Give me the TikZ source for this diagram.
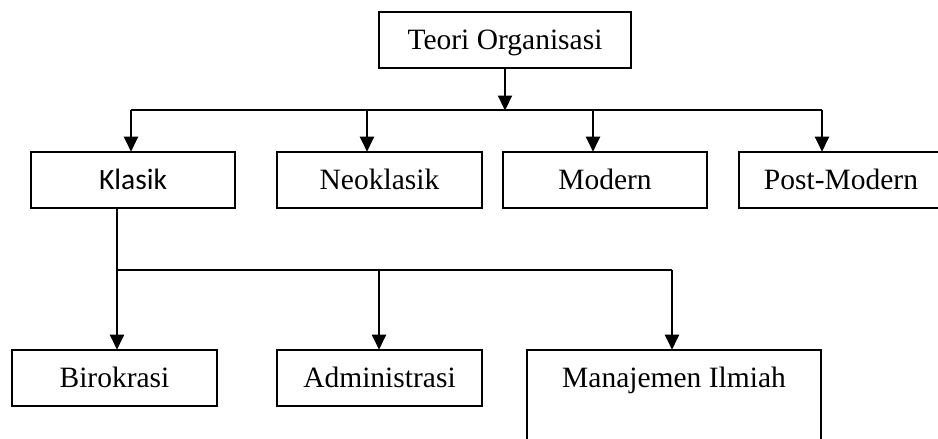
\documentclass[tikz,border=0pt]{standalone}
\usepackage{fontspec}
\setmainfont{Liberation Serif}
\newfontfamily\carlitofont{Carlito}
\usetikzlibrary{arrows.meta}
\tikzset{
  box/.style={draw, line width=1.6pt, inner sep=0pt, text height=19.5pt, text depth=0pt,
    font=\fontsize{29.5}{34}\selectfont},
  conn/.style={line width=2.2pt},
  arr/.style={conn, -{Triangle[length=15pt,width=14pt]}, shorten >=-0.5pt},
}
\begin{document}
\begin{tikzpicture}[x=1pt,y=-1pt]
\useasboundingbox (0,0) rectangle (938,439);
\clip (0,0) rectangle (938,439);
% level 0
\node[box, minimum width=252pt, minimum height=56pt] (teori) at (505,40) {Teori Organisasi};
% level 1
\node[box, minimum width=204pt, minimum height=56pt, font=\fontsize{29.5}{34}\carlitofont] (klasik) at (133,180) {Klasik};
\node[box, minimum width=205pt, minimum height=56pt] (neo) at (379.5,180) {Neoklasik};
\node[box, minimum width=204pt, minimum height=56pt] (modern) at (605,180) {Modern};
\node[box, minimum width=204pt, minimum height=56pt] (post) at (841,180) {Post-Modern};
% level 2
\node[box, minimum width=205pt, minimum height=56pt] (biro) at (114.5,378) {Birokrasi};
\node[box, minimum width=205pt, minimum height=56pt] (admin) at (379.5,378) {Administrasi};
\node[box, minimum width=294pt, minimum height=115pt] (mi) at (674,407.5) {};
\node[box, draw=none] (mitext) at (674,378) {Manajemen Ilmiah};
% bar 1
\coordinate (b1L) at (131,110);
\coordinate (b1R) at (822,110);
\coordinate (b1N) at (367,110);
\coordinate (b1M) at (593,110);
\draw[arr] (teori.south) -- (teori.south |- b1L);
\draw[conn] (b1L) -- (b1R);
\draw[arr] (b1L) -- (b1L |- klasik.north);
\draw[arr] (b1N) -- (b1N |- neo.north);
\draw[arr] (b1M) -- (b1M |- modern.north);
\draw[arr] (b1R) -- (b1R |- post.north);
% bar 2
\coordinate (b2L) at (117,270);
\coordinate (b2A) at (379,270);
\coordinate (b2R) at (672,270);
\draw[conn] (b2L |- klasik.south) -- (b2L);
\draw[conn] (b2L) -- (b2R);
\draw[arr] (b2L) -- (b2L |- biro.north);
\draw[arr] (b2A) -- (b2A |- admin.north);
\draw[arr] (b2R) -- (b2R |- mi.north);
\end{tikzpicture}
\end{document}
